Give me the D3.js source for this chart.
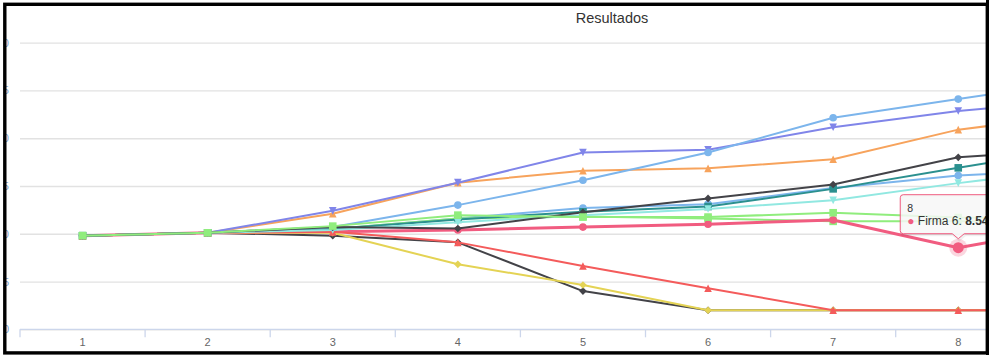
<!DOCTYPE html>
<html>
<head>
<meta charset="utf-8">
<script src="https://cdn.jsdelivr.net/npm/d3@7"></script>
<style>
  html, body { margin: 0; padding: 0; background: #fff; }
  svg { display: block; }
  text { font-family: "Liberation Sans", Arial, Helvetica, sans-serif; }
</style>
</head>
<body>
<svg id="chart" width="989" height="355"></svg>
<script>
// Periods on the x axis
const categories = ["1", "2", "3", "4", "5", "6", "7", "8", "9"];
const yTicks = [0, 5, 10, 15, 20, 25, 30];

// Results per firm, one value per period
const firma1  = [9.8, 10.1, 10.5, 11.6, 12.7, 13.1, 14.8, 16.1, 16.7];
const firma2  = [9.8, 10.1, 9.8, 9.1, 4.0, 2.0, 2.0, 2.0, 2.0];
const firma3  = [9.8, 10.1, 10.5, 11.6, 11.8, 11.6, 11.3, 11.3, 11.3];
const firma4  = [9.8, 10.1, 12.1, 15.35, 16.6, 16.85, 17.8, 20.9, 22.5];
const firma5  = [9.8, 10.1, 12.4, 15.35, 18.5, 18.8, 21.15, 22.85, 24.0];
const firma6  = [9.8, 10.1, 10.2, 10.4, 10.7, 11.0, 11.45, 8.54, 10.9];
const firma7  = [9.8, 10.1, 10.1, 6.8, 4.64, 2.0, 2.0, 2.0, 2.0];
const firma8  = [9.8, 10.1, 10.5, 11.5, 12.3, 12.85, 14.7, 16.9, 19.1];
const firma9  = [9.8, 10.1, 10.2, 9.1, 6.63, 4.3, 2.0, 2.0, 2.0];
const firma10 = [9.8, 10.1, 10.4, 11.2, 11.95, 12.6, 13.5, 15.3, 16.9];
const firma11 = [9.8, 10.1, 10.7, 13.0, 15.6, 18.5, 22.15, 24.1, 26.0];
const firma12 = [9.8, 10.1, 10.7, 10.55, 12.25, 13.7, 15.15, 18.0, 18.9];
const firma13 = [9.8, 10.1, 10.8, 11.95, 11.75, 11.75, 12.2, 11.7, 11.6];

const seriesNames = ["Firma 1", "Firma 2", "Firma 3", "Firma 4", "Firma 5", "Firma 6", "Firma 7",
                     "Firma 8", "Firma 9", "Firma 10", "Firma 11", "Firma 12", "Firma 13"];
const seriesValues = [firma1, firma2, firma3, firma4, firma5, firma6, firma7,
                      firma8, firma9, firma10, firma11, firma12, firma13];

const palette = ["#7cb5ec", "#434348", "#90ed7d", "#f7a35c", "#8085e9",
                 "#f15c80", "#e4d354", "#2b908f", "#f45b5b", "#91e8e1"];
const symbols = ["circle", "diamond", "square", "triangle", "triangle-down"];

// Hovered point shown in the tooltip
const hoverSeries = 5;
const hoverIndex = 7;

const svg = d3.select("#chart");
const W = 989, H = 355;

const plotLeft = 20, plotTop = 42.7, plotBottom = 329.3;
const step = 125.1;

const x = d3.scaleBand()
  .domain(categories)
  .range([plotLeft, plotLeft + categories.length * step])
  .paddingInner(0).paddingOuter(0);
const cx = c => x(c) + x.bandwidth() / 2;

const y = d3.scaleLinear().domain([0, 30]).range([plotBottom, plotTop]);

svg.append("rect").attr("width", W).attr("height", H).attr("fill", "#fff");

// Title
svg.append("text")
  .attr("x", 612).attr("y", 23)
  .attr("text-anchor", "middle")
  .attr("fill", "#333333")
  .style("font-size", "14.5px")
  .text("Resultados");

// Y grid lines and labels
const yAxis = svg.append("g")
  .attr("transform", `translate(${plotLeft},0)`)
  .call(d3.axisLeft(y).tickValues(yTicks).tickSize(-(W - plotLeft)).tickPadding(11).tickFormat(d3.format("d")));
yAxis.select(".domain").remove();
yAxis.selectAll(".tick line").attr("stroke", "#e2e2e2").attr("stroke-width", 1.3);
yAxis.selectAll(".tick text").attr("fill", "#7d9fcf").style("font-size", "11px");

// X axis line, ticks between categories, labels at centres
const xg = svg.append("g").attr("transform", `translate(0,${plotBottom})`);
xg.append("line")
  .attr("x1", plotLeft).attr("x2", W)
  .attr("stroke", "#ccd6eb").attr("stroke-width", 1.3);
xg.selectAll("line.tk")
  .data(categories)
  .join("line")
  .attr("class", "tk")
  .attr("x1", d => x(d)).attr("x2", d => x(d))
  .attr("y1", 0).attr("y2", 8)
  .attr("stroke", "#ccd6eb").attr("stroke-width", 1.3);
xg.selectAll("text")
  .data(categories)
  .join("text")
  .attr("x", d => cx(d))
  .attr("y", 17.2)
  .attr("text-anchor", "middle")
  .attr("fill", "#666666")
  .style("font-size", "11px")
  .text(d => d);

function symbolPath(type, px, py, r) {
  switch (type) {
    case "diamond":
      return `M${px},${py - r}L${px + r},${py}L${px},${py + r}L${px - r},${py}Z`;
    case "triangle":
      return `M${px},${py - r}L${px + r},${py + r}L${px - r},${py + r}Z`;
    case "triangle-down":
      return `M${px - r},${py - r}L${px + r},${py - r}L${px},${py + r}Z`;
    case "square":
      return `M${px - r},${py - r}H${px + r}V${py + r}H${px - r}Z`;
    default:
      return d3.path().arc ? (() => { const p = d3.path(); p.arc(px, py, r, 0, 2 * Math.PI); p.closePath(); return p.toString(); })() : "";
  }
}

const line = d3.line()
  .x((d, i) => cx(categories[i]))
  .y(d => y(d));

const seriesG = svg.append("g");
seriesValues.forEach((vals, s) => {
  const color = palette[s % palette.length];
  const sym = symbols[s % symbols.length];
  const g = seriesG.append("g");
  const hovered = s === hoverSeries;
  g.append("path")
    .attr("d", line(vals))
    .attr("fill", "none")
    .attr("stroke", color)
    .attr("stroke-width", hovered ? 3 : 2)
    .attr("stroke-linejoin", "round")
    .attr("stroke-linecap", "round");
  if (hovered) {
    g.append("circle")
      .attr("cx", cx(categories[hoverIndex]))
      .attr("cy", y(vals[hoverIndex]))
      .attr("r", 9)
      .attr("fill", color)
      .attr("fill-opacity", 0.25);
  }
  g.selectAll("path.mk")
    .data(vals)
    .join("path")
    .attr("class", "mk")
    .attr("d", (d, i) => symbolPath(sym, cx(categories[i]), y(d), (hovered && i === hoverIndex) ? 5.5 : 3.8))
    .attr("fill", color);
});

// Tooltip for the hovered point
const tpx = cx(categories[hoverIndex]);
const tpy = y(seriesValues[hoverSeries][hoverIndex]);
const tColor = palette[hoverSeries];
const bx = tpx - 58, by = tpy - 53, bw = 100, bh = 39, r = 3, tip = 5;
const tipPath = `M${bx + r},${by}H${bx + bw - r}Q${bx + bw},${by} ${bx + bw},${by + r}` +
  `V${by + bh - r}Q${bx + bw},${by + bh} ${bx + bw - r},${by + bh}` +
  `H${tpx + 6}L${tpx},${by + bh + tip}L${tpx - 6},${by + bh}` +
  `H${bx + r}Q${bx},${by + bh} ${bx},${by + bh - r}V${by + r}Q${bx},${by} ${bx + r},${by}Z`;
const tg = svg.append("g");
tg.append("path")
  .attr("d", tipPath)
  .attr("transform", "translate(1,1)")
  .attr("fill", "none")
  .attr("stroke", "#000")
  .attr("stroke-opacity", 0.06)
  .attr("stroke-width", 3);
tg.append("path")
  .attr("d", tipPath)
  .attr("fill", "rgba(247,247,247,0.85)")
  .attr("stroke", tColor)
  .attr("stroke-width", 1);
tg.append("text")
  .attr("x", bx + 7).attr("y", by + 17.5)
  .attr("fill", "#333333")
  .style("font-size", "10.5px")
  .text(categories[hoverIndex]);
const t2 = tg.append("text")
  .attr("x", bx + 7).attr("y", by + 30.5)
  .attr("fill", "#333333")
  .style("font-size", "12px");
t2.append("tspan").attr("fill", tColor).text("\u25CF");
t2.append("tspan").text(" " + seriesNames[hoverSeries] + ": ");
t2.append("tspan").style("font-weight", "bold").text(d3.format(".2f")(seriesValues[hoverSeries][hoverIndex]));

// Frame around the chart
svg.append("rect").attr("x", 0).attr("y", 0).attr("width", 3.2).attr("height", H).attr("fill", "#fff");
svg.append("rect")
  .attr("x", 4.8).attr("y", 4.3)
  .attr("width", 982.5).attr("height", 348.6)
  .attr("fill", "none")
  .attr("stroke", "#000")
  .attr("stroke-width", 3.4);
svg.append("rect").attr("x", 986).attr("y", 0).attr("width", 3).attr("height", H).attr("fill", "#000");
</script>
</body>
</html>
